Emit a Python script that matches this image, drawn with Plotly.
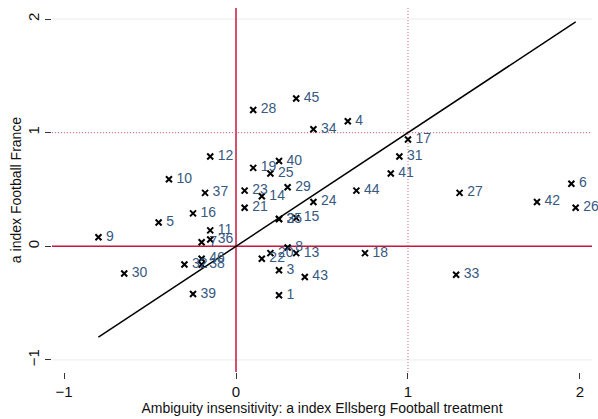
import plotly.graph_objects as go

# Subject ids and their a-index values (Ellsberg football treatment vs. football France)
subject = [str(i) for i in range(1, 47)]
a_ellsberg = [0.25, 0.25, 0.25, 0.65, -0.45, 1.95, -0.20, 0.30, -0.80, -0.39,
              -0.15, -0.15, 0.35, 0.15, 0.35, -0.25, 1.00, 0.75, 0.10, 0.20,
              0.05, 0.15, 0.05, 0.45, 0.20, 1.975, 1.30, 0.10, 0.30, -0.65,
              0.95, -0.30, 1.28, 0.45, 0.25, -0.15, -0.18, -0.20, -0.25, 0.25,
              0.90, 1.75, 0.40, 0.70, 0.35, -0.20]
a_france = [-0.43, 0.24, -0.21, 1.10, 0.21, 0.55, 0.035, -0.01, 0.08, 0.59,
            0.14, 0.79, -0.06, 0.44, 0.25, 0.29, 0.94, -0.06, 0.69, -0.06,
            0.34, -0.11, 0.49, 0.39, 0.64, 0.34, 0.47, 1.20, 0.52, -0.24,
            0.79, -0.16, -0.25, 1.03, 0.24, 0.06, 0.47, -0.16, -0.42, 0.75,
            0.64, 0.39, -0.27, 0.49, 1.30, -0.11]

x_ticks = [-1, 0, 1, 2]
y_ticks = [-1, 0, 1, 2]

RED = "#c8173d"
LABEL = "#37597f"
FONT = "Liberation Sans, Arial, sans-serif"

fig = go.Figure()

# 45-degree line over the observed range of the x variable
lo, hi = min(a_ellsberg), max(a_ellsberg)
fig.add_trace(go.Scatter(x=[lo, hi], y=[lo, hi], mode="lines",
                         line=dict(color="black", width=1.5),
                         hoverinfo="skip", showlegend=False))

fig.add_trace(go.Scatter(
    x=a_ellsberg, y=a_france, mode="markers+text",
    text=["\u2009" + s for s in subject], textposition="middle right",
    textfont=dict(family=FONT, size=14, color=LABEL),
    marker=dict(symbol="x-thin", size=6, color="black",
                line=dict(color="black", width=2)),
    cliponaxis=False, showlegend=False))

# Light horizontal grid at the y ticks
for yv in y_ticks:
    fig.add_shape(type="line", xref="x domain", yref="y", x0=0, x1=1, y0=yv, y1=yv,
                  line=dict(color="#ececec", width=1), layer="below")

# Reference lines at 0 (solid) and 1 (fine dotted), drawn after the grid
fig.add_shape(type="line", xref="x domain", yref="y", x0=0, x1=1, y0=0, y1=0,
              line=dict(color=RED, width=1.5), layer="below")
fig.add_shape(type="line", xref="x", yref="y domain", x0=0, x1=0, y0=0, y1=1,
              line=dict(color=RED, width=1.5), layer="below")
fig.add_shape(type="line", xref="x domain", yref="y", x0=0, x1=1, y0=1, y1=1,
              line=dict(color="#d9667f", width=1, dash="1px,2px"), layer="below")
fig.add_shape(type="line", xref="x", yref="y domain", x0=1, x1=1, y0=0, y1=1,
              line=dict(color="#d9667f", width=1, dash="1px,2px"), layer="below")

fig.update_layout(
    width=598, height=419,
    margin=dict(l=52, r=6, t=8, b=47),
    paper_bgcolor="white", plot_bgcolor="white",
    font=dict(family=FONT, size=14, color="#111111"),
    xaxis=dict(range=[-1.07, 2.07], tickvals=x_ticks,
               ticks="outside", ticklen=6, tickcolor="#333333",
               showgrid=False, zeroline=False, showline=False,
               tickfont=dict(size=15),
               title=dict(text="Ambiguity insensitivity: a index Ellsberg Football treatment",
                          font=dict(size=14), standoff=2)),
    yaxis=dict(range=[-1.106, 2.097], tickvals=y_ticks,
               ticks="outside", ticklen=6, tickcolor="#333333",
               showgrid=False, zeroline=False, showline=False, tickangle=-90,
               tickfont=dict(size=15),
               title=dict(text="a index Football France",
                          font=dict(size=14), standoff=0)),
)

fig.write_html("out.html")
